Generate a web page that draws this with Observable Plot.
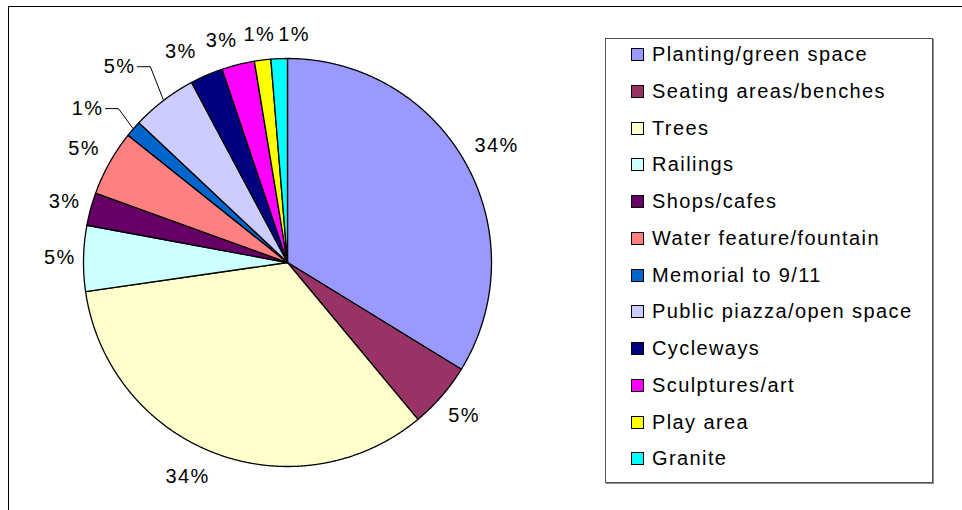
<!DOCTYPE html>
<html>
<head>
<meta charset="utf-8">
<script src="https://cdn.jsdelivr.net/npm/d3@7"></script>
<script src="https://cdn.jsdelivr.net/npm/@observablehq/plot@0.6"></script>
<style>
  html, body { margin: 0; padding: 0; background: #fff; }
  #wrap { position: relative; width: 962px; height: 510px; overflow: hidden; font-family: "Liberation Sans", Arial, sans-serif; }
  #wrap svg text { letter-spacing: 1.4px; }
  #frame { position: absolute; left: 8px; top: 6px; width: 1000px; height: 600px; border-top: 1px solid #000; border-left: 1px solid #000; pointer-events: none; }
  #legend { position: absolute; left: 605px; top: 38px; width: 326px; height: 443px; border: 1px solid #505050; box-shadow: 1px 1px 0 #909090; background: #fff; }
  .item { position: absolute; left: 25px; height: 20px; line-height: 20px; font-size: 20px; letter-spacing: 1.4px; color: #000; white-space: nowrap; }
  .sw { position: absolute; left: 0; top: 4px; width: 11px; height: 11px; border: 1px solid #000; }
  .lab { position: absolute; left: 21px; top: 0; }
</style>
</head>
<body>
<div id="wrap"></div>
<script>
// ---- data ----
const categories = [
  "Planting/green space", "Seating areas/benches", "Trees", "Railings", "Shops/cafes",
  "Water feature/fountain", "Memorial to 9/11", "Public piazza/open space", "Cycleways",
  "Sculptures/art", "Play area", "Granite"
];
const counts = [26, 4, 26, 4, 2, 4, 1, 4, 2, 2, 1, 1];
const percentLabels = ["34%", "5%", "34%", "5%", "3%", "5%", "1%", "5%", "3%", "3%", "1%", "1%"];
const colors = [
  "#9999FF", "#993366", "#FFFFCC", "#CCFFFF", "#660066", "#FF8080",
  "#0066CC", "#CCCCFF", "#000080", "#FF00FF", "#FFFF00", "#00FFFF"
];

// ---- layout / style ----
const R = 204, CX = 287, CY = 262;
const labelGap = 9, labelBoxH = 30;
const nudges = {
  "Trees": {da: 4},
  "Cycleways": {da: -3.5, dr: 3},
  "Sculptures/art": {da: -2.5},
  "Granite": {da: 4},
  "Memorial to 9/11": {leader: true, da: 1.4, dr: 24.6},
  "Public piazza/open space": {leader: true, da: 2.4, dr: 35}
};

// ---- geometry from data (unit-circle coordinates, y up) ----
const arcs = d3.pie().sort(null).value(d => d)(counts);
const slicePts = [];
arcs.forEach((a, i) => {
  const cat = categories[i];
  slicePts.push({cat, x: 0, y: 0});
  const n = Math.max(2, Math.ceil((a.endAngle - a.startAngle) / 0.004));
  for (let k = 0; k <= n; k++) {
    const t = a.startAngle + (a.endAngle - a.startAngle) * k / n;
    slicePts.push({cat, x: Math.sin(t), y: Math.cos(t)});
  }
  slicePts.push({cat, x: 0, y: 0});
});

const labels = [], leaders = [], leaderLabels = [];
arcs.forEach((a, i) => {
  const cat = categories[i];
  const nd = nudges[cat] || {};
  const mid = (a.startAngle + a.endAngle) / 2;
  if (nd.leader) {
    const ang = mid + (nd.da || 0) * Math.PI / 180;
    const rr = (R + (nd.dr || 0)) / R;
    const ex = rr * Math.sin(ang), ey = rr * Math.cos(ang);
    leaders.push({cat, x: Math.sin(mid), y: Math.cos(mid)});
    leaders.push({cat, x: ex, y: ey});
    leaders.push({cat, x: ex - 13 / R, y: ey});
    leaderLabels.push({text: percentLabels[i], x: ex, y: ey});
  } else {
    const ang = mid + (nd.da || 0) * Math.PI / 180;
    const dx = Math.sin(ang), dy = Math.cos(ang);
    const w = percentLabels[i].length === 3 ? 44 : 29;
    const half = Math.abs(dx) * w / 2 + Math.abs(dy) * labelBoxH / 2;
    const rr = (R + (nd.dr || 0) + labelGap + half) / R;
    labels.push({text: percentLabels[i], x: rr * dx, y: rr * dy});
  }
});

const chart = Plot.plot({
  width: 962,
  height: 510,
  margin: 0,
  style: {background: "transparent", fontFamily: "'Liberation Sans', Arial, sans-serif"},
  x: {domain: [-1, 1], range: [CX - R, CX + R], axis: null},
  y: {domain: [-1, 1], range: [CY + R, CY - R], axis: null},
  color: {domain: categories, range: colors},
  marks: [
    Plot.line(slicePts, {x: "x", y: "y", z: "cat", fill: "cat", stroke: "#000", strokeWidth: 1.3, strokeLinejoin: "round", curve: "linear"}),
    Plot.line(leaders, {x: "x", y: "y", z: "cat", stroke: "#000", strokeWidth: 1}),
    Plot.text(labels, {x: "x", y: "y", text: "text", fontSize: 20, fill: "#000", textAnchor: "middle"}),
    Plot.text(leaderLabels, {x: "x", y: "y", text: "text", fontSize: 20, fill: "#000", textAnchor: "end", dx: -15})
  ]
});

const wrap = document.getElementById("wrap");
wrap.appendChild(chart);
const frame = document.createElement("div");
frame.id = "frame";
wrap.appendChild(frame);

// legend
const legend = document.createElement("div");
legend.id = "legend";
categories.forEach((c, i) => {
  const item = document.createElement("div");
  item.className = "item";
  item.style.top = (5 + i * 36.75) + "px";
  const sw = document.createElement("div");
  sw.className = "sw";
  sw.style.background = colors[i];
  const lab = document.createElement("span");
  lab.className = "lab";
  lab.textContent = c;
  item.appendChild(sw);
  item.appendChild(lab);
  legend.appendChild(item);
});
wrap.appendChild(legend);
</script>
</body>
</html>
